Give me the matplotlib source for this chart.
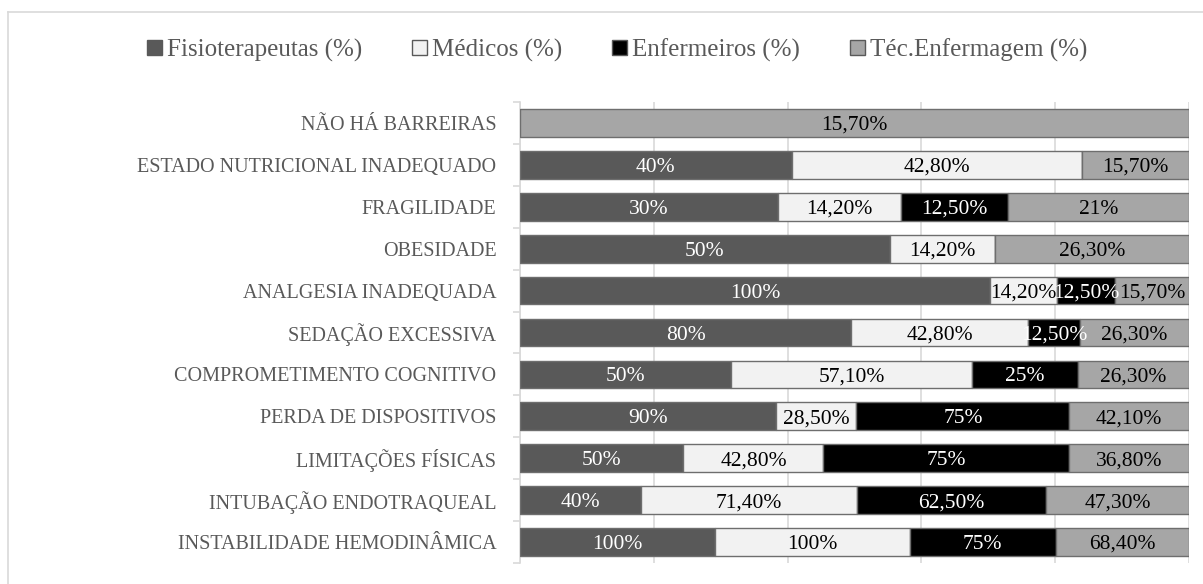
import numpy as np
import matplotlib
matplotlib.use('Agg')
import matplotlib.pyplot as plt
from matplotlib.patches import Patch
from matplotlib.lines import Line2D

plt.rcParams['font.family'] = ['Liberation Serif', 'DejaVu Serif']

categorias = ['NÃO HÁ BARREIRAS', 'ESTADO NUTRICIONAL INADEQUADO', 'FRAGILIDADE',
              'OBESIDADE', 'ANALGESIA INADEQUADA', 'SEDAÇÃO EXCESSIVA',
              'COMPROMETIMENTO COGNITIVO', 'PERDA DE DISPOSITIVOS',
              'LIMITAÇÕES FÍSICAS', 'INTUBAÇÃO ENDOTRAQUEAL',
              'INSTABILIDADE HEMODINÂMICA']
series = ['Fisioterapeutas (%)', 'Médicos (%)', 'Enfermeiros (%)', 'Téc.Enfermagem (%)']
fisio = [0, 40, 30, 50, 100, 80, 50, 90, 50, 40, 100]
medicos = [0, 42.8, 14.2, 14.2, 14.2, 42.8, 57.1, 28.5, 42.8, 71.4, 100]
enfermeiros = [0, 0, 12.5, 0, 12.5, 12.5, 25, 75, 75, 62.5, 75]
tecnicos = [15.7, 15.7, 21, 26.3, 15.7, 26.3, 26.3, 42.1, 36.8, 47.3, 68.4]

cores = ['#595959', '#f2f2f2', '#000000', '#a6a6a6']
cor_texto = ['white', 'black', 'white', 'black']


def fmt(v):
    if float(v).is_integer():
        return f"{v:.0f}%"
    return f"{v:.2f}%".replace('.', ',')


W, H = 1203, 584
fig = plt.figure(figsize=(W / 100, H / 100), dpi=100)
ax = fig.add_axes([520 / W, 21 / H, (1189 - 520) / W, (563 - 102) / H])

dados = np.array([fisio, medicos, enfermeiros, tecnicos], dtype=float)
total = dados.sum(axis=0)
partes = dados / total * 100
y = np.arange(len(categorias))

esquerda = np.zeros(len(categorias))
for i in range(len(series)):
    ax.barh(y, partes[i], left=esquerda, height=0.66, color=cores[i],
            edgecolor='#6e6e6e', linewidth=1.0, zorder=3, label=series[i])
    for j in range(len(categorias)):
        if dados[i, j] > 0:
            ax.text(esquerda[j] + partes[i, j] / 2, y[j], fmt(dados[i, j]),
                    ha='center', va='center_baseline', fontsize=15.5,
                    color=cor_texto[i], zorder=5)
    esquerda += partes[i]

ax.set_xlim(0, 100)
ax.set_ylim(len(categorias) - 0.5, -0.5)
ax.set_xticks(np.arange(0, 101, 20))
ax.set_xticklabels([])
ax.tick_params(axis='x', length=0)
ax.grid(axis='x', color='#d9d9d9', linewidth=1.2, zorder=0)

ax.set_yticks(y)
ax.set_yticklabels(categorias, fontsize=14.5, color='#595959')
ax.tick_params(axis='y', which='major', length=0, pad=17)
ax.set_yticks(np.arange(-0.5, len(categorias)), minor=True)
ax.tick_params(axis='y', which='minor', length=5, color='#d9d9d9', width=1.2)

for s in ['top', 'right', 'bottom']:
    ax.spines[s].set_visible(False)
ax.spines['left'].set_color('#d9d9d9')
ax.spines['left'].set_linewidth(1.2)

handles = [Patch(facecolor=cores[i], edgecolor='#595959', linewidth=1.0) for i in range(4)]
fig.legend(handles, series, loc='center', bbox_to_anchor=(617 / W, 1 - 50 / H),
           ncol=4, frameon=False, fontsize=18, handlelength=0.6, handleheight=0.6,
           handletextpad=0.2, columnspacing=2.0, labelcolor='#595959')

# moldura externa
fig.add_artist(Line2D([8 / W, 8 / W], [0, 1 - 12 / H], transform=fig.transFigure,
                      color='#d9d9d9', linewidth=1.2))
fig.add_artist(Line2D([8 / W, 1], [1 - 12 / H, 1 - 12 / H], transform=fig.transFigure,
                      color='#d9d9d9', linewidth=1.2))

plt.savefig('out.png', dpi=100)
